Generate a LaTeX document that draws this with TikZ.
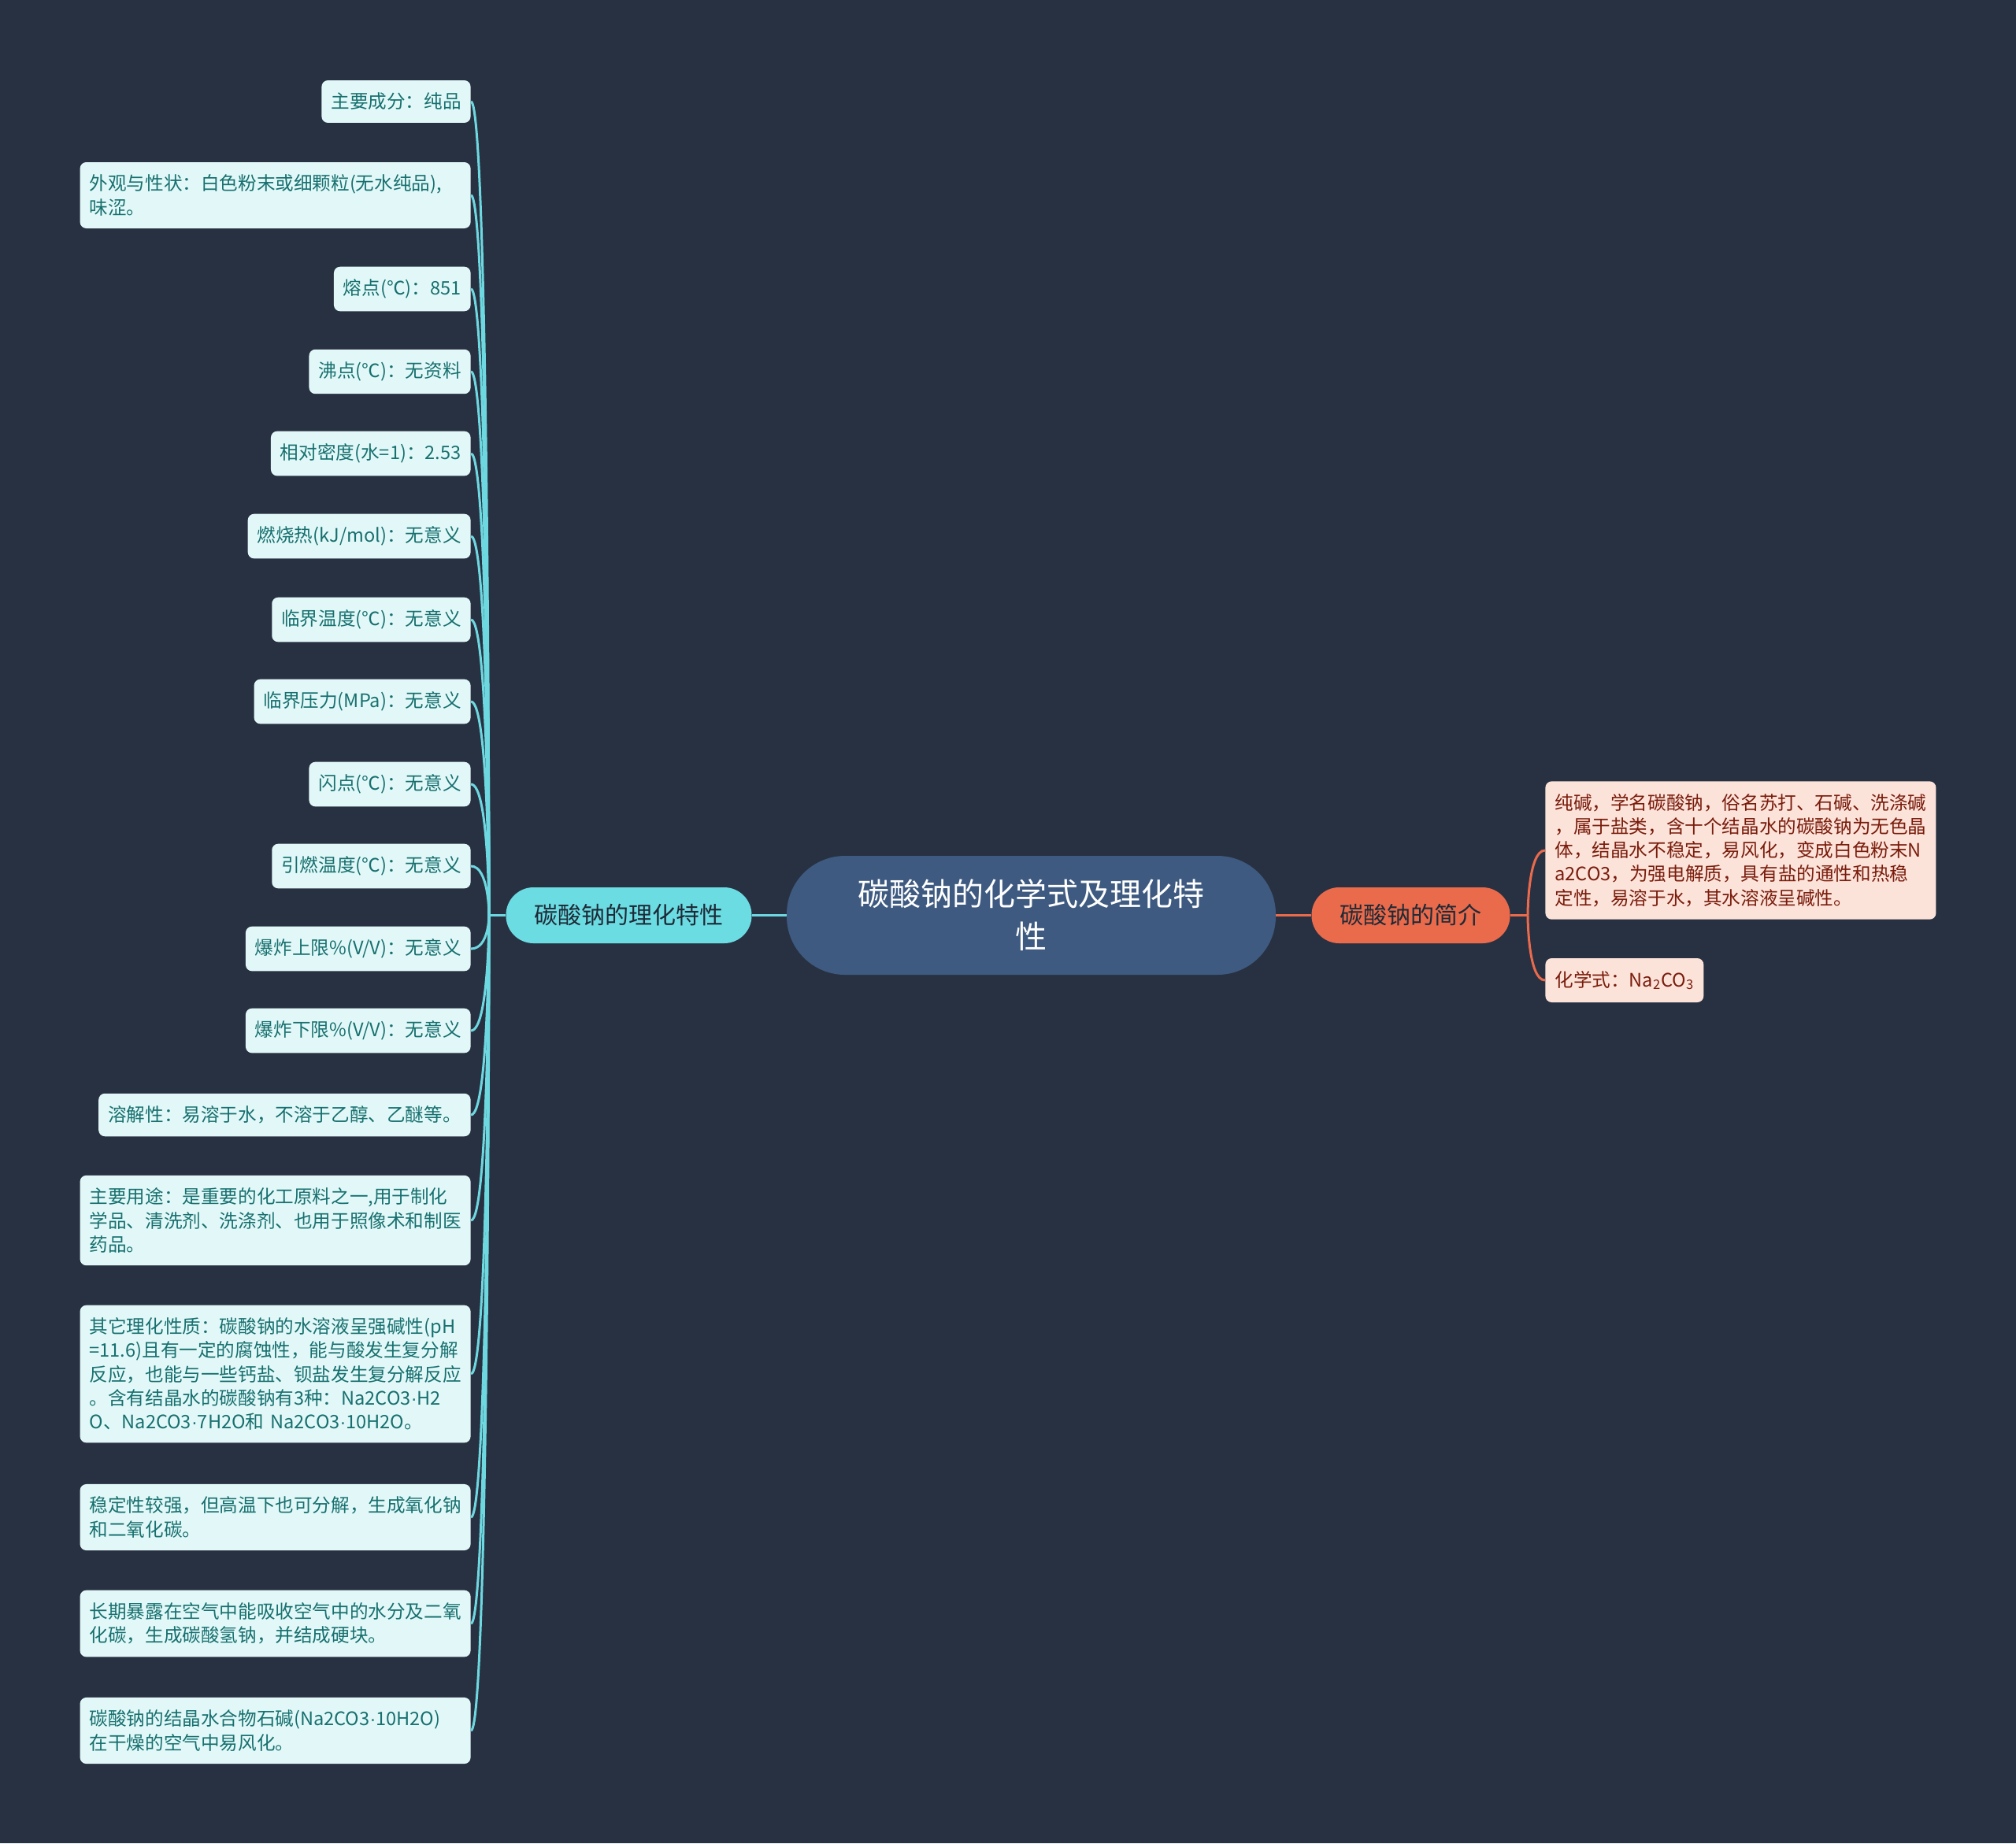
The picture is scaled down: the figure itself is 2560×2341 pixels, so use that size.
\documentclass[tikz,border=0pt]{standalone}
\usepackage{fontspec}
\setmainfont{Noto Sans CJK SC}
\newfontfamily\latinx{Liberation Sans}
\newcommand\mdot{{\latinx ·}}
\usepackage{xcolor}
\usepackage{tikz}
\usetikzlibrary{positioning}
\definecolor{bgx}{HTML}{283142}
\definecolor{mainx}{HTML}{3E5A80}
\definecolor{cyanx}{HTML}{6CDCE3}
\definecolor{cyanln}{HTML}{6ED8E0}
\definecolor{cyanbg}{HTML}{E2F8F8}
\definecolor{tealtx}{HTML}{17706F}
\definecolor{darktx}{HTML}{1E2A36}
\definecolor{coralx}{HTML}{EA6A4C}
\definecolor{coralbg}{HTML}{FCE3DA}
\definecolor{browntx}{HTML}{7A1C0C}
\tikzset{
  mainbox/.style={fill=mainx,text=white,rounded corners=37pt,minimum width=310.5pt,minimum height=75.5pt,align=center,font=\fontsize{20}{27}\selectfont},
  lbranch/.style={fill=cyanx,text=darktx,rounded corners=17.5pt,inner xsep=18pt,minimum height=35.5pt,font=\fontsize{15}{18}\selectfont},
  rbranch/.style={fill=coralx,text=darktx,rounded corners=17.5pt,inner xsep=18pt,minimum height=35.5pt,font=\fontsize{15}{18}\selectfont},
  lleaf/.style={fill=cyanbg,text=tealtx,rounded corners=4pt,inner xsep=6pt,inner ysep=8pt,minimum height=26.5pt,align=left,anchor=east,font=\fontsize{11.8}{15.1}\selectfont},
  lwide/.style={lleaf,text width=236pt},
  rleaf/.style={fill=coralbg,text=browntx,rounded corners=4pt,inner xsep=6pt,inner ysep=8pt,minimum height=26.5pt,align=left,anchor=west,font=\fontsize{11.8}{15.1}\selectfont},
  llink/.style={cyanln,line width=1.5pt},
  rlink/.style={coralx,line width=1.5pt}
}

\begin{document}
\begin{tikzpicture}[x=0.5pt,y=-0.5pt]
\fill[bgx] (0,0) rectangle (2560,2341);
% centre and branches
\node[mainbox] (c) at (1309.5,1162.5) {碳酸钠的化学式及理化特\\性};
\node[lbranch] (lb) at (798.5,1162.5) {碳酸钠的理化特性};
\node[rbranch] (rb) at (1791.5,1162.5) {碳酸钠的简介};
\coordinate (lj) at (621,1162.5);
\coordinate (rj) at (1940,1162.5);
% left leaves
\node[lleaf] (l1) at (598,129) {主要成分：纯品};
\node[lwide] (l2) at (598,248) {外观与性状：白色粉末或细颗粒(无水纯品),\\味涩。};
\node[lleaf] (l3) at (598,367) {熔点(℃)：851};
\node[lleaf] (l4) at (598,472) {沸点(℃)：无资料};
\node[lleaf] (l5) at (598,576) {相对密度(水=1)：2.53};
\node[lleaf] (l6) at (598,681) {燃烧热(kJ/mol)：无意义};
\node[lleaf] (l7) at (598,787) {临界温度(℃)：无意义};
\node[lleaf] (l8) at (598,891) {临界压力(MPa)：无意义};
\node[lleaf] (l9) at (598,996) {闪点(℃)：无意义};
\node[lleaf] (l10) at (598,1100) {引燃温度(℃)：无意义};
\node[lleaf] (l11) at (598,1205) {爆炸上限\%(V/V)：无意义};
\node[lleaf] (l12) at (598,1309) {爆炸下限\%(V/V)：无意义};
\node[lleaf] (l13) at (598,1416) {溶解性：易溶于水，不溶于乙醇、乙醚等。};
\node[lwide] (l14) at (598,1550) {主要用途：是重要的化工原料之一,用于制化\\学品、清洗剂、洗涤剂、也用于照像术和制医\\药品。};
\node[lwide] (l15) at (598,1745) {其它理化性质：碳酸钠的水溶液呈强碱性(pH\\=11.6)且有一定的腐蚀性，能与酸发生复分解\\反应，也能与一些钙盐、钡盐发生复分解反应\\。含有结晶水的碳酸钠有3种：Na2CO3\mdot H2\\O、Na2CO3\mdot 7H2O和 Na2CO3\mdot 10H2O。};
\node[lwide] (l16) at (598,1927) {稳定性较强，但高温下也可分解，生成氧化钠\\和二氧化碳。};
\node[lwide] (l17) at (598,2062) {长期暴露在空气中能吸收空气中的水分及二氧\\化碳，生成碳酸氢钠，并结成硬块。};
\node[lwide] (l18) at (598,2198) {碳酸钠的结晶水合物石碱(Na2CO3\mdot 10H2O)\\在干燥的空气中易风化。};
% right leaves
\node[rleaf,text width=236pt] (r1) at (1962,1080) {纯碱，学名碳酸钠，俗名苏打、石碱、洗涤碱\\，属于盐类，含十个结晶水的碳酸钠为无色晶\\体，结晶水不稳定，易风化，变成白色粉末N\\a2CO3，为强电解质，具有盐的通性和热稳\\定性，易溶于水，其水溶液呈碱性。};
\node[rleaf] (r2) at (1962,1245) {化学式：Na\textsubscript{2}CO\textsubscript{3}};
% links
\draw[llink] (c.west) -- (lb.east);
\draw[llink] (lb.west) -- (lj);
\foreach \n in {1,...,18}
  \draw[llink] (l\n.east) .. controls (lj |- l\n.east) and (lj) .. (lj);
\draw[rlink] (c.east) -- (rb.west);
\draw[rlink] (rb.east) -- (rj);
\foreach \n in {1,2}
  \draw[rlink] (r\n.west) .. controls (rj |- r\n.west) and (rj) .. (rj);
\end{tikzpicture}
\end{document}
